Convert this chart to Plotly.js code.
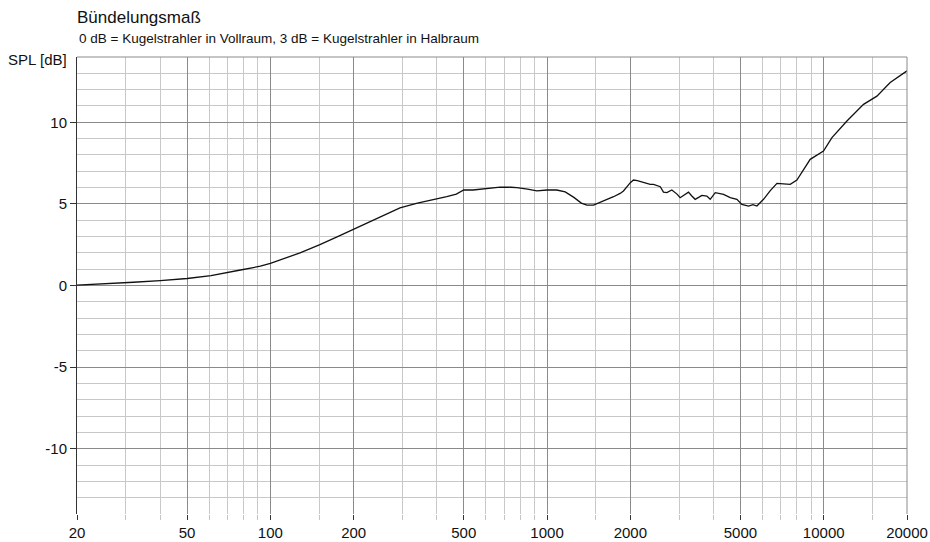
<!DOCTYPE html>
<html>
<head>
<meta charset="utf-8">
<script src="https://cdn.plot.ly/plotly-3.0.1.min.js"></script>
<style>html,body{margin:0;padding:0;background:#fff;}#chart{width:930px;height:542px;}</style>
</head>
<body>
<div id="chart"></div>
<script>
const freqHz = [20,24,28,32,40,50,61,70,78,92,100,128,151,175,200,243,294,340,390,434,470,500,540,574,620,677,740,778,850,919,1000,1084,1163,1250,1330,1393,1472,1600,1739,1837,1889,2000,2053,2120,2234,2360,2427,2566,2635,2711,2825,2950,3027,3120,3245,3330,3430,3530,3627,3782,3888,4055,4200,4345,4593,4856,5060,5350,5550,5735,6060,6400,6776,7150,7568,8000,8937,9980,10710,12130,13930,15570,17390,20000];
const splDb = [0.02,0.08,0.15,0.2,0.3,0.43,0.61,0.78,0.95,1.18,1.35,2.0,2.5,3.0,3.45,4.1,4.75,5.05,5.25,5.45,5.6,5.85,5.85,5.9,5.95,6.03,6.02,6.0,5.9,5.8,5.85,5.85,5.73,5.4,5.05,4.92,4.92,5.17,5.44,5.64,5.79,6.3,6.46,6.42,6.3,6.2,6.2,6.05,5.72,5.69,5.85,5.6,5.38,5.55,5.72,5.5,5.28,5.4,5.52,5.48,5.28,5.69,5.62,5.58,5.38,5.28,4.97,4.87,4.95,4.87,5.28,5.8,6.26,6.25,6.2,6.46,7.73,8.24,9.06,10.08,11.1,11.6,12.44,13.15];

const xTickVals = [20,50,100,200,500,1000,2000,5000,10000,20000];
const xTickText = ['20','50','100','200','500','1000','2000','5000','10000','20000'];
const xMinorVals = [30,40,60,70,80,90,150,300,400,600,700,800,900,1500,3000,4000,6000,7000,8000,9000,15000];
const yTickVals = [-10,-5,0,5,10];
const yTickText = ['-10','-5','0','5','10'];
const yMinorVals = [-13,-12,-11,-9,-8,-7,-6,-4,-3,-2,-1,1,2,3,4,6,7,8,9,11,12,13];

const titleText = 'Bündelungsmaß';
const subtitleText = '0 dB = Kugelstrahler in Vollraum, 3 dB = Kugelstrahler in Halbraum';
const yLabel = 'SPL [dB]';

const FONT = 'Liberation Sans, Arial, sans-serif';

const trace = {
  x: freqHz, y: splDb, type: 'scatter', mode: 'lines',
  line: {color: '#111', width: 1.3}, hoverinfo: 'skip', showlegend: false
};

const layout = {
  width: 930, height: 542,
  margin: {l: 77, r: 23, t: 57, b: 28, pad: 0},
  paper_bgcolor: '#fff', plot_bgcolor: '#fff',
  font: {family: FONT, color: '#111', size: 15},
  title: {
    text: titleText, font: {family: FONT, size: 17, color: '#111'},
    xref: 'paper', x: 0, xanchor: 'left', yref: 'container', y: 1 - 17/542, yanchor: 'middle'
  },
  xaxis: {
    type: 'log', range: [Math.log10(20), Math.log10(20000)],
    tickmode: 'array', tickvals: xTickVals, ticktext: xTickText,
    ticks: 'outside', ticklen: 5, tickwidth: 1, tickcolor: '#333',
    showgrid: true, gridcolor: '#8a8a8a', gridwidth: 1,
    zeroline: false, showline: false,
    tickfont: {family: FONT, size: 15, color: '#111'},
    minor: {tickmode: 'array', tickvals: xMinorVals, ticks: 'outside', ticklen: 5, tickcolor: '#c4c4c4', showgrid: true, gridcolor: '#c8c8c8', gridwidth: 1},
    fixedrange: true
  },
  yaxis: {
    range: [-14, 14],
    tickmode: 'array', tickvals: yTickVals, ticktext: yTickText,
    ticks: 'outside', ticklen: 6, tickwidth: 1, tickcolor: '#333',
    showgrid: true, gridcolor: '#8a8a8a', gridwidth: 1,
    zeroline: false, showline: true, linecolor: '#333', linewidth: 1,
    tickfont: {family: FONT, size: 15, color: '#111'},
    minor: {tickmode: 'array', tickvals: yMinorVals, ticks: '', showgrid: true, gridcolor: '#c8c8c8', gridwidth: 1},
    fixedrange: true
  },
  shapes: [
    {type: 'line', xref: 'paper', yref: 'paper', x0: 0, x1: 1, y0: 1, y1: 1, line: {color: '#8a8a8a', width: 1}},
    {type: 'line', xref: 'paper', yref: 'paper', x0: 1, x1: 1, y0: 0, y1: 1, line: {color: '#8a8a8a', width: 1}}
  ],
  annotations: [
    {text: subtitleText, xref: 'paper', yref: 'paper', x: 0, xanchor: 'left', y: 1 + 18/457, yanchor: 'middle', showarrow: false, font: {family: FONT, size: 13.5, color: '#111'}},
    {text: yLabel, xref: 'paper', yref: 'paper', x: -8/830, xanchor: 'right', y: 1, yanchor: 'middle', yshift: -2, showarrow: false, font: {family: FONT, size: 15, color: '#111'}}
  ]
};

Plotly.newPlot('chart', [trace], layout, {displayModeBar: false, staticPlot: true});
</script>
</body>
</html>
